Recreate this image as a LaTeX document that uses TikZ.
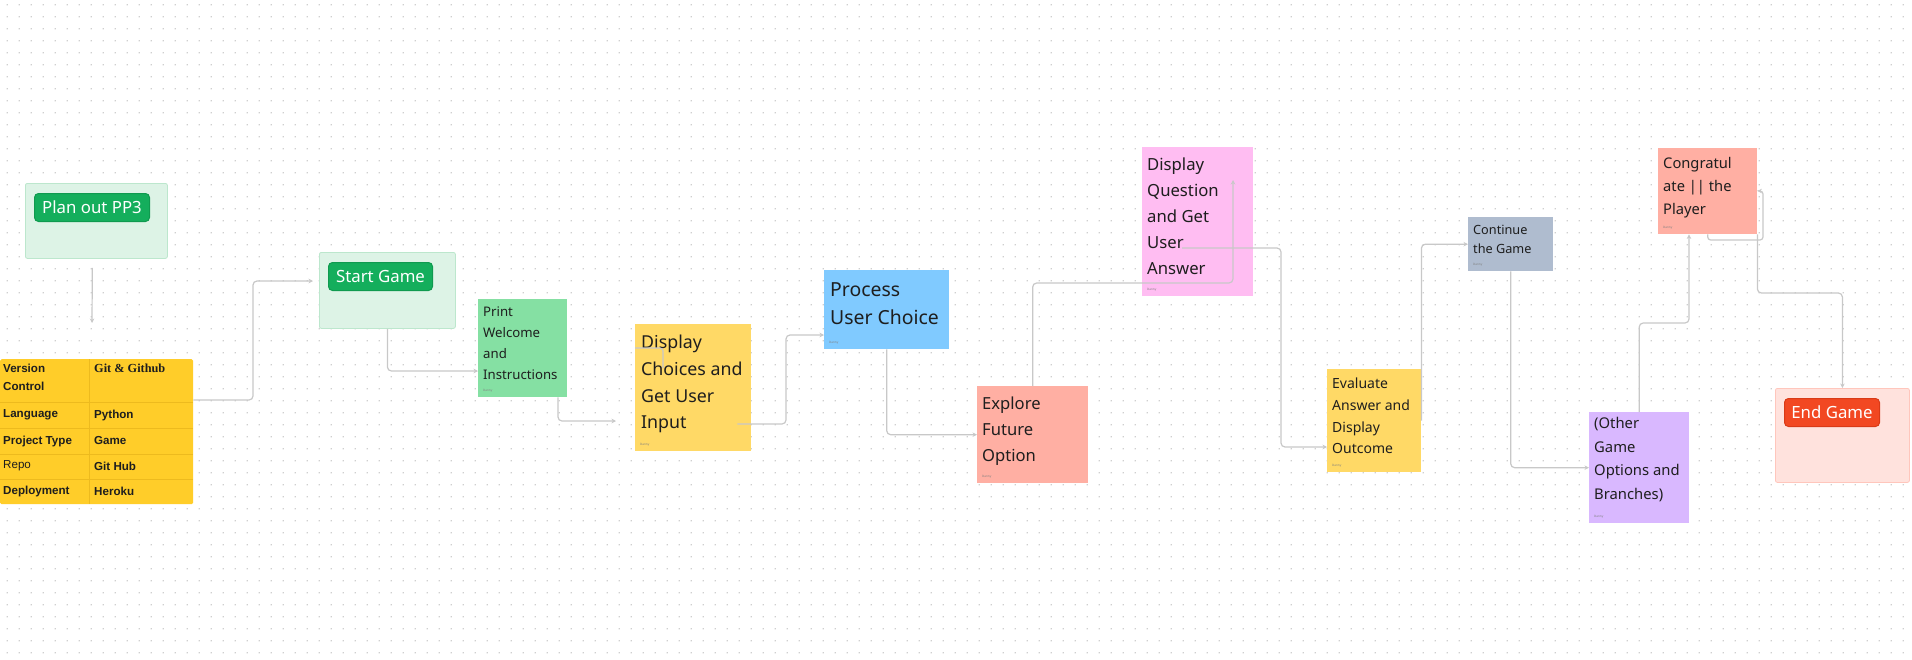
\documentclass[tikz,border=0pt]{standalone}
\usepackage{fontspec}
\setmainfont{Noto Sans}
\newfontfamily\slabfont{Liberation Serif}
\newfontfamily\cellfont{Liberation Sans}
\usetikzlibrary{arrows.meta, positioning, calc}

\definecolor{inkc}{HTML}{1E1E1E}
\definecolor{dotc}{HTML}{CFCFCF}
\definecolor{linkc}{HTML}{C8C8C8}
\definecolor{mintbg}{HTML}{DDF3E6}
\definecolor{mintln}{HTML}{BCE7CD}
\definecolor{btngreen}{HTML}{14AE5C}
\definecolor{btngreenln}{HTML}{0F9A4F}
\definecolor{rosebg}{HTML}{FFE2DD}
\definecolor{roseln}{HTML}{FFC6BC}
\definecolor{btnred}{HTML}{F24822}
\definecolor{btnredln}{HTML}{D93A17}
\definecolor{tblyellow}{HTML}{FFCD29}
\definecolor{tblline}{HTML}{EDBA1E}
\definecolor{stgreen}{HTML}{85E0A3}
\definecolor{styellow}{HTML}{FFD966}
\definecolor{stblue}{HTML}{80CAFF}
\definecolor{stred}{HTML}{FFAFA3}
\definecolor{stpink}{HTML}{FFBDF2}
\definecolor{stgray}{HTML}{AFBCCF}
\definecolor{stviolet}{HTML}{D9B8FF}

\begin{document}
\begin{tikzpicture}[x=1pt, y=-1pt,
    every node/.style={text=inkc},
    sticky/.style={rectangle, anchor=north west, inner sep=0pt, draw=none,
      label={[tag]south west:Danny}},
    tag/.style={anchor=south west, inner sep=0pt, xshift=5pt, yshift=5pt,
      font=\fontsize{3}{3}\selectfont, text=gray},
    notes/.style={anchor=north west, inner sep=0pt, align=left},
    frame/.style={rectangle, anchor=north west, rounded corners=2pt, inner sep=0pt, line width=0.8pt},
    button/.style={rectangle, anchor=north west, rounded corners=4pt, minimum height=28pt,
      inner sep=0pt, line width=1pt, text=white, font=\fontsize{16.8}{20}\selectfont},
    cell/.style={anchor=west, inner sep=0pt, font=\cellfont\fontsize{11.6}{18}\selectfont\bfseries},
    link/.style={draw=linkc, line width=1.2pt, rounded corners=4pt,
      -{Stealth[length=4.5pt,width=4.5pt]}}
  ]
  \useasboundingbox (0,0) rectangle (1912,659);

  % dotted canvas
  \fill[white] (0,0) rectangle (1912,659);
  \foreach \i in {0,...,158}
    \fill[dotc] foreach \j in {0,...,54} {(6.7+12*\i,4.1+12*\j) rectangle ++(1.2,1.2)};

  % Plan out PP3
  \node[frame, fill=mintbg, draw=mintln, minimum width=142pt, minimum height=75pt] (plan) at (25,183) {};
  \node[button, fill=btngreen, draw=btngreenln, minimum width=115pt] (planbtn) at (34,193) {Plan out PP3};
  \coordinate (planend) at (92,323);

  % project table
  \node[rectangle, anchor=north west, fill=tblyellow, minimum width=193pt, minimum height=145pt,
    inner sep=0pt, rounded corners=1.5pt] (tbl) at (0,359) {};
  \draw[tblline, line width=0.8pt] (89,359) -- (89,504);
  \foreach \y in {402,428,454,479}
    \draw[tblline, line width=0.8pt] (0,\y) -- (193,\y);
  \node[cell, anchor=north west, align=left] (c11) at (3,364) {Version\\Control};
  \node[cell, anchor=north west] (c12) at (94,364) {\slabfont\fontsize{12.3}{18}\selectfont Git \& Github};
  \node[cell] (c21) at (3,415) {Language};
  \node[cell] (c22) at (94,415) {Python};
  \node[cell] (c31) at (3,441) {Project Type};
  \node[cell] (c32) at (94,441) {Game};
  \node[cell, font=\cellfont\fontsize{11.6}{18}\selectfont] (c41) at (3,466) {Repo};
  \node[cell] (c42) at (94,466) {Git Hub};
  \node[cell] (c51) at (3,491) {Deployment};
  \node[cell] (c52) at (94,491) {Heroku};

  % Start Game
  \node[frame, fill=mintbg, draw=mintln, minimum width=136pt, minimum height=76pt] (start) at (319,252) {};
  \node[button, fill=btngreen, draw=btngreenln, minimum width=104pt] (startbtn) at (328,262) {Start Game};

  % stickies
  \node[sticky, fill=stgreen, minimum width=89pt, minimum height=98pt] (print) at (478,299) {};
  \node[notes, font=\fontsize{13.2}{20.7}\selectfont] (printtxt) at (483,307) {Print\\Welcome\\and\\Instructions};

  \node[sticky, fill=styellow, minimum width=116pt, minimum height=127pt] (choices) at (635,324) {};
  \node[notes, font=\fontsize{17.8}{26.7}\selectfont] (choicestxt) at (641,335) {Display\\Choices and\\Get User\\Input};

  \node[sticky, fill=stblue, minimum width=125pt, minimum height=79pt] (process) at (824,270) {};
  \node[notes, font=\fontsize{19.4}{28}\selectfont] (processtxt) at (830,282) {Process\\User Choice};

  \node[sticky, fill=stred, minimum width=111pt, minimum height=97pt] (explore) at (977,386) {};
  \node[notes, font=\fontsize{16.6}{25.7}\selectfont] (exploretxt) at (982,397) {Explore\\Future\\Option};

  \node[sticky, fill=stpink, minimum width=111pt, minimum height=149pt] (question) at (1142,147) {};
  \node[notes, font=\fontsize{16.7}{26}\selectfont] (questiontxt) at (1147,158) {Display\\Question\\and Get\\User\\Answer};

  \node[sticky, fill=styellow, minimum width=94pt, minimum height=103pt] (eval) at (1327,369) {};
  \node[notes, font=\fontsize{14}{21.7}\selectfont] (evaltxt) at (1332,378) {Evaluate\\Answer and\\Display\\Outcome};

  \node[sticky, fill=stgray, minimum width=85pt, minimum height=54pt] (cont) at (1468,217) {};
  \node[notes, font=\fontsize{12.7}{19}\selectfont] (conttxt) at (1473,225) {Continue\\the Game};

  \node[sticky, fill=stviolet, minimum width=100pt, minimum height=111pt] (other) at (1589,412) {};
  \node[notes, font=\fontsize{14.8}{23.7}\selectfont] (othertxt) at (1594,417) {(Other\\Game\\Options and\\Branches)};

  \node[sticky, fill=stred, minimum width=99pt, minimum height=86pt] (congrat) at (1658,148) {};
  \node[notes, font=\fontsize{14.7}{23}\selectfont] (congrattxt) at (1663,157) {Congratul\\ate || the\\Player};

  % End Game
  \node[frame, fill=rosebg, draw=roseln, minimum width=134pt, minimum height=94pt] (endc) at (1775,388) {};
  \node[button, fill=btnred, draw=btnredln, minimum width=95pt] (endbtn) at (1784,398) {End Game};

  % connectors
  \draw[link, shorten <=9pt] ([xshift=-4pt]plan.south) -- (planend);
  \draw[link] (tbl.east |- 0,400) -- (253,400) -- (253,281) -- ([xshift=-6pt]start.west |- 0,281);
  \draw[link] (start.south) |- (print.west |- 0,371);
  \draw[link] (print.south -| 558,0) |- ([xshift=-19pt]choices.west |- 0,421);
  \draw[draw=linkc, line width=1.2pt, rounded corners=3pt] (choices.west |- 0,348) -- (663,348) -- (663,368);
  \draw[link] ([xshift=-14pt]choices.east |- 0,424) -- (786,424) -- (786,335) -- (process.west |- 0,335);
  \draw[link] (process.south) |- (explore.west);
  \draw[link] (explore.north) |- (1233,283) -- (1233,180);
  \draw[link] ([xshift=40pt]question.west |- 0,248) -- (1281,248) |- (eval.west |- 0,447);
  \draw[link] (eval.east) |- (cont.west);
  \draw[link] (cont.south) |- (other.west);
  \draw[link] (other.north) |- (1689,323) -- (congrat.south -| 1689,0);
  \draw[link, rounded corners=3pt] (congrat.south) -- (congrat.south |- 0,240) -- (1763,240)
    -- (1763,191) -- (congrat.east |- 0,191);
  \draw[link] (congrat.south east) -- (congrat.south east |- 0,293) -| (endc.north);
\end{tikzpicture}
\end{document}
